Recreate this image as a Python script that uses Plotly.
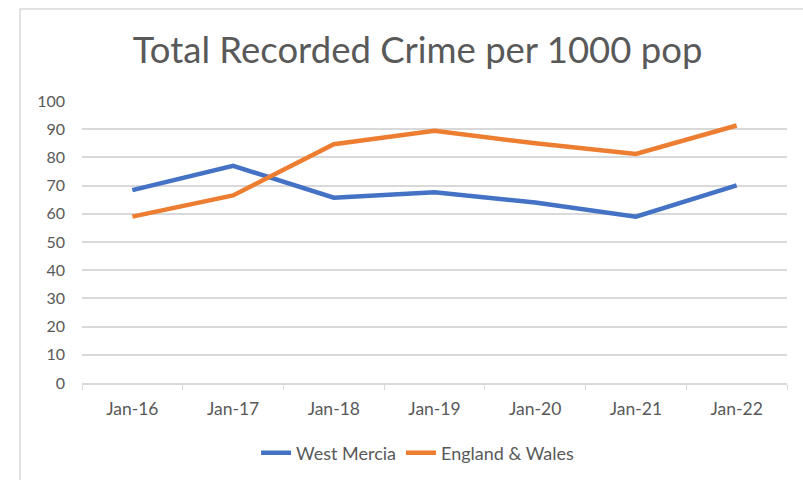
import plotly.graph_objects as go

categories = ["Jan-16", "Jan-17", "Jan-18", "Jan-19", "Jan-20", "Jan-21", "Jan-22"]
west_mercia = [68.4, 77.0, 65.7, 67.6, 64.0, 59.0, 70.1]
england_wales = [59.0, 66.5, 84.7, 89.4, 85.0, 81.2, 91.3]
y_ticks = list(range(0, 101, 10))

grey = "#595959"
fig = go.Figure()
fig.add_trace(go.Scatter(x=categories, y=west_mercia, mode="lines", name="West Mercia",
                         line=dict(color="#4472C4", width=4.5)))
fig.add_trace(go.Scatter(x=categories, y=england_wales, mode="lines", name="England & Wales",
                         line=dict(color="#ED7D31", width=4.5)))

fig.update_layout(
    width=803, height=480,
    margin=dict(l=82, r=16, t=101, b=97, autoexpand=False),
    paper_bgcolor="white", plot_bgcolor="white",
    font=dict(family="Lato, Open Sans, sans-serif", color=grey, size=16),
    title=dict(text="Total Recorded Crime per 1000 pop", x=0.52, xanchor="center",
               y=0.895, yref="container", yanchor="middle",
               font=dict(size=36.5, color=grey)),
    legend=dict(orientation="h", x=0.52, xref="container", xanchor="center",
                y=0.056, yref="container", yanchor="middle", font=dict(size=18, color=grey),
                tracegroupgap=0),
    showlegend=True,
    xaxis=dict(type="category", range=[-0.5, 6.5], showgrid=False, showline=True,
               linecolor="#d9d9d9", linewidth=1.5,
               ticks="outside", tickson="boundaries", ticklen=5, tickcolor="#d9d9d9",
               ticklabelstandoff=9,
               tickangle=0, tickfont=dict(size=17.5, color=grey), fixedrange=True),
    yaxis=dict(range=[0, 100], tickvals=y_ticks, showgrid=True, gridcolor="#d9d9d9",
               gridwidth=1.5, zeroline=False, showline=False, ticks="", ticklabelstandoff=16,
               tickfont=dict(size=16, color=grey), fixedrange=True),
)

fig.add_shape(type="rect", xref="paper", yref="paper",
              x0=(20 - 82) / 705, x1=1.1, y0=-0.5, y1=(382 - 8) / 282,
              line=dict(color="#d9d9d9", width=1.5), fillcolor="rgba(0,0,0,0)", layer="below")

fig.write_html("out.html", config={"displayModeBar": False},
               post_script="document.body.style.margin='0';")
